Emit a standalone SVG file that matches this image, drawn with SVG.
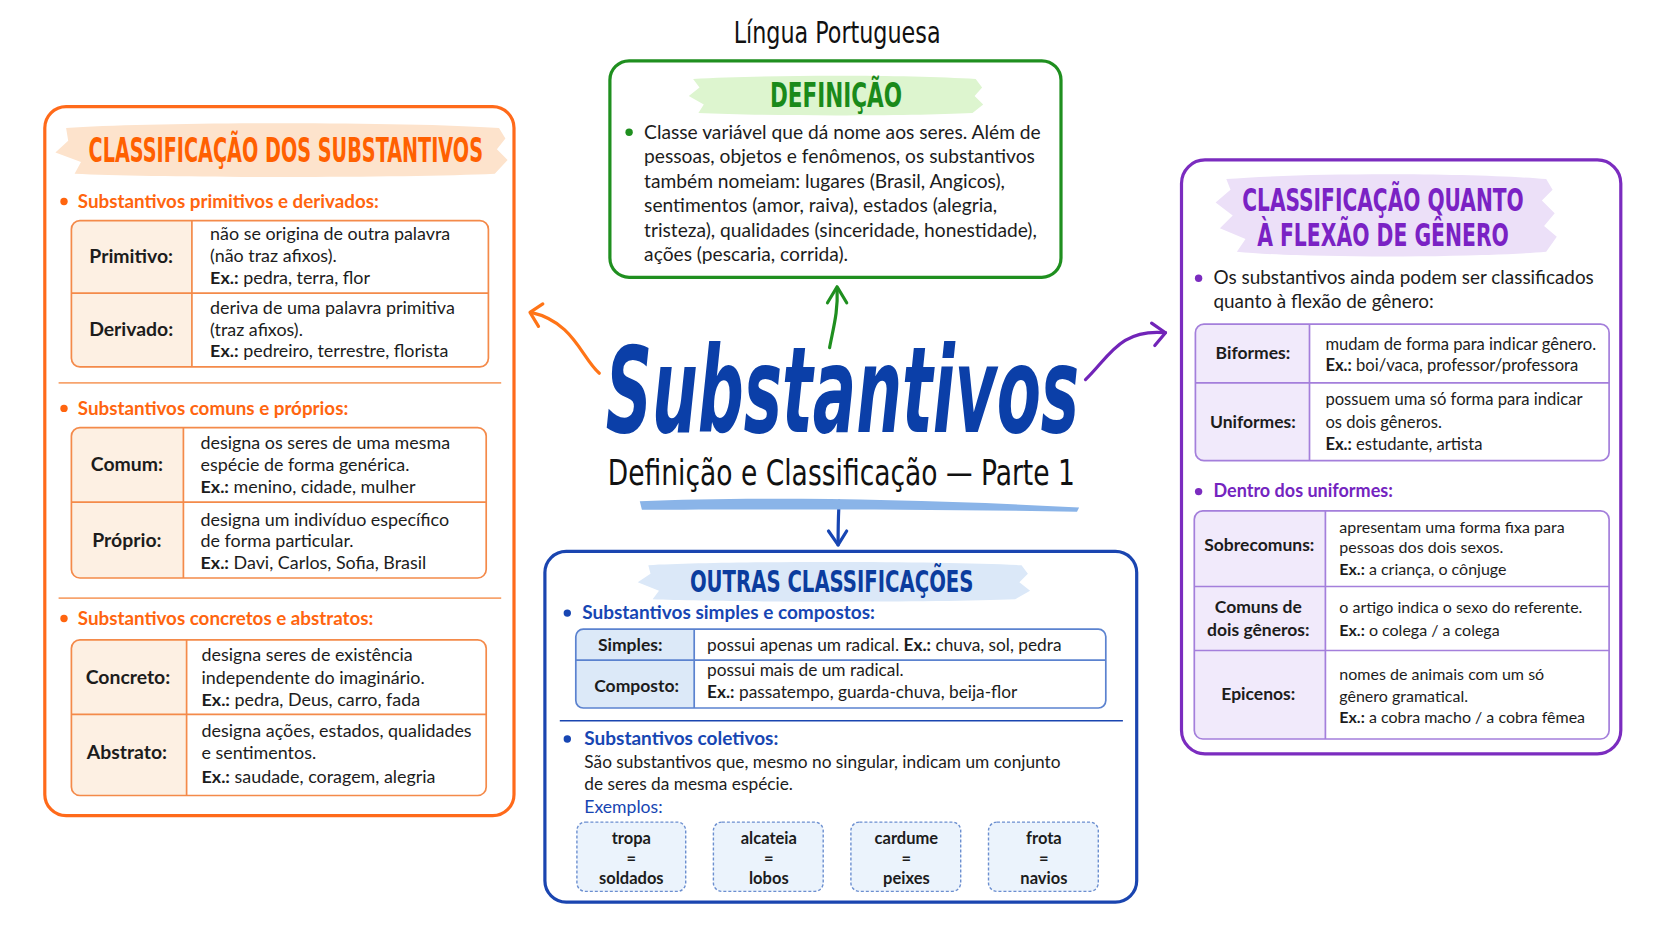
<svg xmlns="http://www.w3.org/2000/svg" width="1672" height="941" viewBox="0 0 1672 941">
<style>
.b{font-family:Lato,"Open Sans","Noto Sans",sans-serif;font-size:17.9px;fill:#1c1c1c}
.r1{font-family:Lato,"Open Sans","Noto Sans",sans-serif;font-size:16.6px;fill:#1c1c1c}
.r2{font-family:Lato,"Open Sans","Noto Sans",sans-serif;font-size:16px;fill:#1c1c1c}
.bb{font-family:Lato,"Open Sans","Noto Sans",sans-serif;font-size:17.3px;fill:#1c1c1c}
.d{font-family:Lato,"Open Sans","Noto Sans",sans-serif;font-size:19.2px;fill:#1c1c1c}
.dr{font-family:Lato,"Open Sans","Noto Sans",sans-serif;font-size:18.9px;fill:#1c1c1c}
.bl{font-family:Lato,"Open Sans","Noto Sans",sans-serif;font-size:19.4px;font-weight:bold;fill:#1c1c1c}
.bl2{font-family:Lato,"Open Sans","Noto Sans",sans-serif;font-size:17.5px;font-weight:bold;fill:#1c1c1c}
.ttl{font-family:"DejaVu Sans Condensed","Liberation Sans Narrow","Liberation Sans",sans-serif;font-weight:bold}
.hand{font-family:"DejaVu Sans Condensed","Liberation Sans Narrow",sans-serif;fill:#111}
.ho{font-family:Lato,"Open Sans",sans-serif;font-size:18.8px;font-weight:bold;fill:#ff650f}
.hp{font-family:Lato,"Open Sans",sans-serif;font-size:18px;font-weight:bold;fill:#7424bf}
.hb{font-family:Lato,"Open Sans",sans-serif;font-size:19px;font-weight:bold;fill:#1746b3}
.exl{font-family:Lato,"Open Sans",sans-serif;font-size:17.6px;fill:#1746b3}
.ex{font-weight:bold}
.card{font-family:Lato,"Open Sans",sans-serif;font-size:16.5px;font-weight:bold;fill:#1c1c1c}
.conn{fill:none;stroke-width:3.2;stroke-linecap:round;stroke-linejoin:round}
.to{fill:none;stroke:#f48a4a;stroke-width:1.7}
.tp{fill:none;stroke:#a47fdb;stroke-width:1.7}
.tb{fill:none;stroke:#5b82cf;stroke-width:1.7}
</style>
<rect width="1672" height="941" fill="#ffffff"/>
<text class="hand" x="837.1" y="42.7" font-size="30.9" text-anchor="middle" textLength="206.9" lengthAdjust="spacingAndGlyphs">Língua Portuguesa</text>

<g id="connectors">
<path class="conn" stroke="#ff7417" d="M599.3,373.2 C581.1,357.2 573.7,322 531,312.4"/>
<path class="conn" stroke="#ff7417" d="M542.8,303.9 L530,312.4 L538.5,326.3"/>
<path class="conn" stroke="#1f8f1f" d="M829.6,347.6 C833.9,325.2 838.1,311.4 837.1,287.9"/>
<path class="conn" stroke="#1f8f1f" d="M827.5,302.8 L837.1,286.8 L846.7,302.8"/>
<path class="conn" stroke="#7124b8" d="M1085.5,379.6 C1109,357.2 1119.6,328.4 1165.5,332.7"/>
<path class="conn" stroke="#7124b8" d="M1151.6,323.1 L1165.5,332.7 L1154.8,345.5"/>
<path class="conn" stroke="#1746b3" d="M839.2,501.2 C838.1,517.2 838.1,531 838.1,544.9"/>
<path class="conn" stroke="#1746b3" d="M828.5,531 L838.1,544.9 L846.7,531"/>
</g>

<g id="center">
<text x="842.4" y="431.9" text-anchor="middle" font-family="'DejaVu Sans Condensed','Liberation Sans Narrow',sans-serif" font-weight="bold" font-style="italic" font-size="119.4" fill="#0b3fa8" textLength="473.4" lengthAdjust="spacingAndGlyphs">Substantivos</text>
<text class="hand" x="841.3" y="485.2" font-size="35.2" text-anchor="middle" textLength="467.1" lengthAdjust="spacingAndGlyphs">Definição e Classificação — Parte 1</text>
<path d="M639.8,501.2 C746.4,496.9 906.4,498 1079.1,507.6 L1077,511.8 C906.4,508.6 746.4,509.7 641.9,509.7 Z" fill="#8ab4e8"/>
</g>

<g id="definicao">
<rect x="609.9" y="60.8" width="451.1" height="216.5" rx="19.2" fill="#fff" stroke="#1f8f1f" stroke-width="3.2"/>
<path d="M693.1,78.9 C767.8,74.6 906.4,74.6 975.7,78.9 L982.1,87.4 L974.6,96 L983.2,104.5 L972.5,113 C906.4,116.2 767.8,116.2 698.4,113 L703.8,104.5 L688.8,96 L699.5,87.4 Z" fill="#ddf5cf"/>
<text class="ttl" x="836" y="106.6" font-size="33.1" fill="#1a8a1a" text-anchor="middle" textLength="132.2" lengthAdjust="spacingAndGlyphs">DEFINIÇÃO</text>
<circle cx="629.1" cy="132.2" r="3.7" fill="#1f8f1f"/>
<text class="d" x="644.1" y="138.6">Classe variável que dá nome aos seres. Além de</text>
<text class="d" x="644.1" y="163.1">pessoas, objetos e fenômenos, os substantivos</text>
<text class="d" x="644.1" y="187.7">também nomeiam: lugares (Brasil, Angicos),</text>
<text class="d" x="644.1" y="212.2">sentimentos (amor, raiva), estados (alegria,</text>
<text class="d" x="644.1" y="236.7">tristeza), qualidades (sinceridade, honestidade),</text>
<text class="d" x="644.1" y="261.3">ações (pescaria, corrida).</text>
</g>

<g id="classificacao">
<rect x="44.8" y="106.6" width="469.2" height="709.1" rx="21.3" fill="#fff" stroke="#ff6a1a" stroke-width="3.2"/>
<path d="M66.1,128 C160,121.6 405.2,121.6 499,128 L505.4,138.6 L496.9,149.3 L507.6,160 L494.8,173.8 C405.2,178.1 160,178.1 74.6,173.8 L81,162.1 L55.4,152.5 L68.2,140.8 Z" fill="#fde3cc"/>
<text class="ttl" x="285.8" y="162.1" font-size="33.1" fill="#ff6000" text-anchor="middle" textLength="394.5" lengthAdjust="spacingAndGlyphs">CLASSIFICAÇÃO DOS SUBSTANTIVOS</text>

<circle cx="64" cy="201.5" r="3.7" fill="#ff650f"/>
<text class="ho" x="77.8" y="207.9">Substantivos primitivos e derivados:</text>
<path d="M79.9,220.7 H191.9 V366.8 H79.9 A8.5,8.5 0 0 1 71.4,358.3 V229.2 A8.5,8.5 0 0 1 79.9,220.7 Z" fill="#fdf0e3"/>
<rect class="to" x="71.4" y="220.7" width="417" height="146.1" rx="8.5"/>
<path class="to" d="M191.9,220.7 V366.8 M71.4,293.2 H488.4"/>
<text class="bl" x="131.2" y="263.4" text-anchor="middle">Primitivo:</text>
<text class="bl" x="131.2" y="335.9" text-anchor="middle">Derivado:</text>
<text class="b" x="210.1" y="239.9">não se origina de outra palavra</text>
<text class="b" x="210.1" y="262.3">(não traz afixos).</text>
<text class="b" x="210.1" y="283.6"><tspan class="ex">Ex.:</tspan> pedra, terra, flor</text>
<text class="b" x="210.1" y="313.5">deriva de uma palavra primitiva</text>
<text class="b" x="210.1" y="335.9">(traz afixos).</text>
<text class="b" x="210.1" y="357.2"><tspan class="ex">Ex.:</tspan> pedreiro, terrestre, florista</text>

<path d="M58.6,382.8 H501.2" stroke="#f7a46e" stroke-width="1.7"/>

<circle cx="64" cy="408.4" r="3.7" fill="#ff650f"/>
<text class="ho" x="77.8" y="414.8">Substantivos comuns e próprios:</text>
<path d="M79.9,427.6 H183.4 V578 H79.9 A8.5,8.5 0 0 1 71.4,569.5 V436.1 A8.5,8.5 0 0 1 79.9,427.6 Z" fill="#fdf0e3"/>
<rect class="to" x="71.4" y="427.6" width="414.8" height="150.4" rx="8.5"/>
<path class="to" d="M183.4,427.6 V578 M71.4,502.2 H486.2"/>
<text class="bl" x="126.9" y="471.3" text-anchor="middle">Comum:</text>
<text class="bl" x="126.9" y="547" text-anchor="middle">Próprio:</text>
<text class="b" x="200.5" y="448.9">designa os seres de uma mesma</text>
<text class="b" x="200.5" y="471.3">espécie de forma genérica.</text>
<text class="b" x="200.5" y="492.6"><tspan class="ex">Ex.:</tspan> menino, cidade, mulher</text>
<text class="b" x="200.5" y="525.7">designa um indivíduo específico</text>
<text class="b" x="200.5" y="547">de forma particular.</text>
<text class="b" x="200.5" y="569.4"><tspan class="ex">Ex.:</tspan> Davi, Carlos, Sofia, Brasil</text>

<path d="M58.6,598.2 H501.2" stroke="#f7a46e" stroke-width="1.7"/>

<circle cx="64" cy="618.5" r="3.7" fill="#ff650f"/>
<text class="ho" x="77.8" y="624.9">Substantivos concretos e abstratos:</text>
<path d="M79.9,639.8 H186.6 V795.5 H79.9 A8.5,8.5 0 0 1 71.4,787 V648.3 A8.5,8.5 0 0 1 79.9,639.8 Z" fill="#fdf0e3"/>
<rect class="to" x="71.4" y="639.8" width="414.8" height="155.7" rx="8.5"/>
<path class="to" d="M186.6,639.8 V795.5 M71.4,714.4 H486.2"/>
<text class="bl" x="128" y="683.5" text-anchor="middle">Concreto:</text>
<text class="bl" x="126.9" y="759.2" text-anchor="middle">Abstrato:</text>
<text class="b" x="201.5" y="661.1">designa seres de existência</text>
<text class="b" x="201.5" y="683.5">independente do imaginário.</text>
<text class="b" x="201.5" y="705.9"><tspan class="ex">Ex.:</tspan> pedra, Deus, carro, fada</text>
<text class="b" x="201.5" y="736.8">designa ações, estados, qualidades</text>
<text class="b" x="201.5" y="759.2">e sentimentos.</text>
<text class="b" x="201.5" y="782.7"><tspan class="ex">Ex.:</tspan> saudade, coragem, alegria</text>
</g>

<g id="genero">
<rect x="1181.5" y="159.9" width="439.3" height="593.9" rx="23.5" fill="#fff" stroke="#7b2cbf" stroke-width="3.2"/>
<path d="M1226.3,179.1 C1300.9,172.7 1471.5,172.7 1546.2,179.1 L1552.6,189.8 L1541.9,200.5 L1554.7,213.3 L1544.1,226.1 L1556.8,236.7 L1546.2,251.7 C1471.5,258.1 1300.9,258.1 1236.9,251.7 L1245.5,238.9 L1219.9,228.2 L1232.7,215.4 L1215.6,202.6 L1230.5,189.8 Z" fill="#ece0f8"/>
<text class="ttl" x="1383" y="211.1" font-size="32" fill="#7a22c4" text-anchor="middle" textLength="281.5" lengthAdjust="spacingAndGlyphs">CLASSIFICAÇÃO QUANTO</text>
<text class="ttl" x="1383" y="246.3" font-size="32" fill="#7a22c4" text-anchor="middle" textLength="251.7" lengthAdjust="spacingAndGlyphs">À FLEXÃO DE GÊNERO</text>
<circle cx="1198.6" cy="278.3" r="3.7" fill="#7b2cbf"/>
<text class="dr" x="1213.5" y="283.6">Os substantivos ainda podem ser classificados</text>
<text class="dr" x="1213.5" y="308.2">quanto à flexão de gênero:</text>

<path d="M1203.9,324.2 H1309.5 V460.7 H1203.9 A8.5,8.5 0 0 1 1195.4,452.2 V332.7 A8.5,8.5 0 0 1 1203.9,324.2 Z" fill="#f1eafb"/>
<rect class="tp" x="1195.4" y="324.2" width="413.7" height="136.5" rx="8.5"/>
<path class="tp" d="M1309.5,324.2 V460.7 M1195.4,382.8 H1609.1"/>
<text class="bl2" x="1252.9" y="359.3" text-anchor="middle">Biformes:</text>
<text class="bl2" x="1252.9" y="427.6" text-anchor="middle">Uniformes:</text>
<text class="r1" x="1325.4" y="349.8">mudam de forma para indicar gênero.</text>
<text class="r1" x="1325.4" y="371.1"><tspan class="ex">Ex.:</tspan> boi/vaca, professor/professora</text>
<text class="r1" x="1325.4" y="405.2">possuem uma só forma para indicar</text>
<text class="r1" x="1325.4" y="427.6">os dois gêneros.</text>
<text class="r1" x="1325.4" y="450"><tspan class="ex">Ex.:</tspan> estudante, artista</text>

<circle cx="1198.6" cy="491.6" r="3.7" fill="#7b2cbf"/>
<text class="hp" x="1213.5" y="496.9">Dentro dos uniformes:</text>
<path d="M1202.8,510.8 H1325.4 V739 H1202.8 A8.5,8.5 0 0 1 1194.3,730.5 V519.3 A8.5,8.5 0 0 1 1202.8,510.8 Z" fill="#f1eafb"/>
<rect class="tp" x="1194.3" y="510.8" width="414.8" height="228.2" rx="8.5"/>
<path class="tp" d="M1325.4,510.8 V739 M1194.3,586.5 H1609.1 M1194.3,650.5 H1609.1"/>
<text class="bl2" x="1259.3" y="551.3" text-anchor="middle">Sobrecomuns:</text>
<text class="bl2" x="1258.3" y="613.1" text-anchor="middle">Comuns de</text>
<text class="bl2" x="1258.3" y="635.5" text-anchor="middle">dois gêneros:</text>
<text class="bl2" x="1258.3" y="699.5" text-anchor="middle">Epicenos:</text>
<text class="r2" x="1339.3" y="533.2">apresentam uma forma fixa para</text>
<text class="r2" x="1339.3" y="553.4">pessoas dos dois sexos.</text>
<text class="r2" x="1339.3" y="574.8"><tspan class="ex">Ex.:</tspan> a criança, o cônjuge</text>
<text class="r2" x="1339.3" y="613.1">o artigo indica o sexo do referente.</text>
<text class="r2" x="1339.3" y="635.5"><tspan class="ex">Ex.:</tspan> o colega / a colega</text>
<text class="r2" x="1339.3" y="680.3">nomes de animais com um só</text>
<text class="r2" x="1339.3" y="701.6">gênero gramatical.</text>
<text class="r2" x="1339.3" y="723"><tspan class="ex">Ex.:</tspan> a cobra macho / a cobra fêmea</text>
</g>

<g id="outras">
<rect x="544.9" y="551.3" width="591.8" height="350.8" rx="21.3" fill="#fff" stroke="#1a45b0" stroke-width="3.2"/>
<path d="M648.3,565.2 C725.1,560.9 938.4,560.9 1021.5,565.2 L1027.9,573.7 L1019.4,582.2 L1030.1,590.7 L1015.1,599.3 C938.4,602.5 725.1,602.5 652.6,599.3 L659,590.7 L637.7,582.2 L650.5,573.7 Z" fill="#dbe8f8"/>
<text class="ttl" x="831.7" y="591.8" font-size="29.9" fill="#0b3c9e" text-anchor="middle" textLength="283.6" lengthAdjust="spacingAndGlyphs">OUTRAS CLASSIFICAÇÕES</text>
<circle cx="567.3" cy="613.1" r="3.7" fill="#1746b3"/>
<text class="hb" x="582.2" y="618.5">Substantivos simples e compostos:</text>
<path d="M583.3,629.1 H694.2 V708 H583.3 A7.5,7.5 0 0 1 575.8,700.5 V636.6 A7.5,7.5 0 0 1 583.3,629.1 Z" fill="#dce9f8"/>
<rect class="tb" x="575.8" y="629.1" width="530" height="78.9" rx="7.5"/>
<path class="tb" d="M694.2,629.1 V708 M575.8,660.1 H1105.8"/>
<text class="bl2" x="630.2" y="650.5" text-anchor="middle">Simples:</text>
<text class="bl2" x="636.6" y="692" text-anchor="middle">Composto:</text>
<text class="bb" x="707" y="650.5">possui apenas um radical. <tspan class="ex">Ex.:</tspan> chuva, sol, pedra</text>
<text class="bb" x="707" y="676.1">possui mais de um radical.</text>
<text class="bb" x="707" y="698.4"><tspan class="ex">Ex.:</tspan> passatempo, guarda-chuva, beija-flor</text>
<path d="M559.8,720.8 H1122.9" stroke="#1a45b0" stroke-width="1.5"/>
<circle cx="567.3" cy="739" r="3.7" fill="#1746b3"/>
<text class="hb" x="584.3" y="745.4">Substantivos coletivos:</text>
<text class="bb" x="584.3" y="767.8">São substantivos que, mesmo no singular, indicam um conjunto</text>
<text class="bb" x="584.3" y="790.2">de seres da mesma espécie.</text>
<text class="exl" x="584.3" y="812.5">Exemplos:</text>
<g fill="#ebf3fc" stroke="#6c8fd0" stroke-width="1.4" stroke-dasharray="3 2">
<rect x="576.9" y="822.1" width="108.8" height="69.3" rx="8.5"/>
<rect x="713.4" y="822.1" width="109.8" height="69.3" rx="8.5"/>
<rect x="850.9" y="822.1" width="109.8" height="69.3" rx="8.5"/>
<rect x="988.5" y="822.1" width="109.8" height="69.3" rx="8.5"/>
</g>
<text class="card" text-anchor="middle" x="631.3" y="843.5">tropa</text><text class="card" text-anchor="middle" x="631.3" y="863.7">=</text><text class="card" text-anchor="middle" x="631.3" y="884">soldados</text>
<text class="card" text-anchor="middle" x="768.8" y="843.5">alcateia</text><text class="card" text-anchor="middle" x="768.8" y="863.7">=</text><text class="card" text-anchor="middle" x="768.8" y="884">lobos</text>
<text class="card" text-anchor="middle" x="906.4" y="843.5">cardume</text><text class="card" text-anchor="middle" x="906.4" y="863.7">=</text><text class="card" text-anchor="middle" x="906.4" y="884">peixes</text>
<text class="card" text-anchor="middle" x="1043.9" y="843.5">frota</text><text class="card" text-anchor="middle" x="1043.9" y="863.7">=</text><text class="card" text-anchor="middle" x="1043.9" y="884">navios</text>
</g>
</svg>
